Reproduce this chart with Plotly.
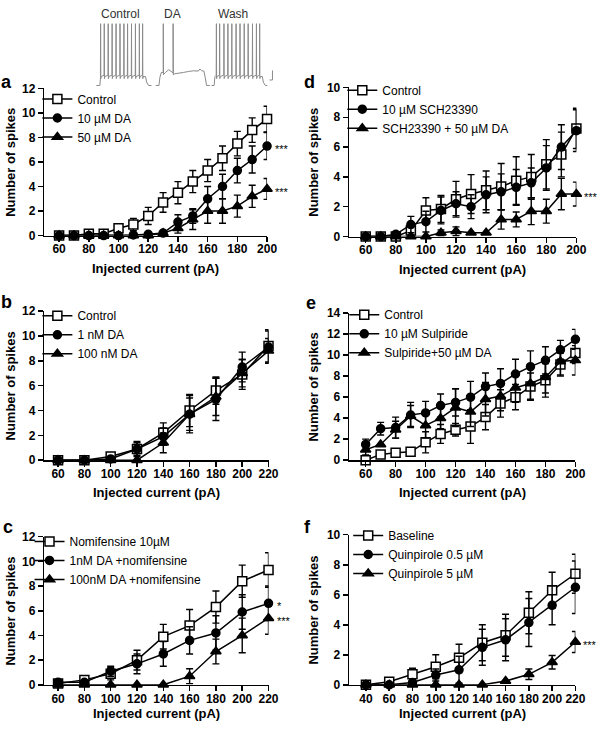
import plotly.graph_objects as go

W, H = 610, 734
FONT = "Arial, Liberation Sans, Helvetica, sans-serif"

# ---------------- data ----------------
# panel a
A_X = [60, 70, 80, 90, 100, 110, 120, 130, 140, 150, 160, 170, 180, 190, 200]
A_NAMES = ["Control", "10 µM DA", "50 µM DA"]
A_CTRL = [0, 0, 0.15, 0.15, 0.6, 0.9, 1.6, 2.7, 3.5, 4.4, 5.3, 6.3, 7.5, 8.6, 9.5]
A_CTRL_ERR = [0, 0, 0, 0, 0.3, 0.5, 0.7, 0.8, 0.9, 0.9, 0.9, 1.0, 1.0, 1.0, 1.05]
A_DA10 = [0, 0, 0, 0, 0, 0.05, 0.1, 0.2, 1.1, 1.6, 3.0, 4.0, 5.3, 6.2, 7.3]
A_DA10_ERR = [0, 0, 0, 0, 0, 0, 0, 0, 0.6, 0.6, 1.0, 1.0, 1.0, 1.1, 1.1]
A_DA50 = [0, 0, 0, 0, 0, 0, 0, 0.2, 0.6, 1.3, 2.0, 2.0, 2.4, 3.2, 3.8]
A_DA50_ERR = [0, 0, 0, 0, 0, 0, 0, 0, 0.4, 0.8, 1.0, 1.0, 0.9, 0.9, 0.85]
A_STARS = ["", "***", "***"]

# panel b
B_X = [60, 80, 100, 120, 140, 160, 180, 200, 220]
B_NAMES = ["Control", "1 nM DA", "100 nM DA"]
B_CTRL = [0, 0, 0.3, 0.9, 2.2, 4.0, 5.6, 6.9, 9.2]
B_CTRL_ERR = [0, 0, 0, 0.6, 0.8, 1.3, 1.1, 1.2, 1.3]
B_DA1 = [0, 0, 0.1, 0.9, 1.9, 3.7, 4.9, 7.5, 9.1]
B_DA1_ERR = [0, 0, 0, 0.5, 0.7, 1.5, 1.7, 1.2, 1.3]
B_DA100 = [0, 0, 0, 0, 1.4, 3.7, 5.1, 7.0, 8.8]
B_DA100_ERR = [0, 0, 0, 0, 0.8, 1.3, 1.5, 1.1, 1.0]
B_STARS = ["", "", ""]

# panel c
C_X = [60, 80, 100, 120, 140, 160, 180, 200, 220]
C_NAMES = ["Nomifensine 10µM", "1nM DA +nomifensine", "100nM DA +nomifensine"]
C_NOM = [0.1, 0.4, 0.9, 2.0, 3.9, 4.8, 6.3, 8.4, 9.3]
C_NOM_ERR = [0, 0, 0.5, 0.8, 1.0, 1.3, 1.3, 1.3, 1.4]
C_DA1 = [0.2, 0.2, 1.1, 1.7, 2.5, 3.6, 4.2, 5.9, 6.6]
C_DA1_ERR = [0, 0, 0.4, 0.8, 1.0, 1.1, 1.4, 1.4, 1.4]
C_DA100 = [0, 0, 0, 0, 0, 0.7, 2.7, 4.0, 5.4]
C_DA100_ERR = [0, 0, 0, 0, 0, 0.6, 1.0, 1.4, 1.3]
C_STARS = ["", "*", "***"]

# panel d
D_X = [60, 70, 80, 90, 100, 110, 120, 130, 140, 150, 160, 170, 180, 190, 200]
D_NAMES = ["Control", "10 µM SCH23390", "SCH23390 + 50 µM DA"]
D_CTRL = [0, 0, 0, 0.4, 1.75, 1.85, 2.5, 2.85, 3.1, 3.35, 3.75, 4.0, 4.85, 5.5, 7.25]
D_CTRL_ERR = [0, 0, 0, 0.3, 0.85, 0.9, 1.2, 1.3, 1.3, 1.55, 1.6, 1.5, 1.65, 1.5, 1.35]
D_SCH = [0, 0, 0.15, 0.8, 1.0, 1.75, 2.2, 2.0, 2.8, 3.0, 3.3, 3.6, 4.6, 6.0, 7.1]
D_SCH_ERR = [0, 0, 0, 0.55, 0.7, 0.9, 0.8, 0.8, 1.2, 1.2, 1.2, 1.0, 1.5, 1.5, 1.4]
D_SCHDA = [0, 0, 0, 0, 0, 0.25, 0.35, 0.25, 0.25, 1.15, 1.15, 1.7, 1.7, 2.85, 2.85]
D_SCHDA_ERR = [0, 0, 0, 0, 0, 0.2, 0.3, 0, 0, 0.65, 0.5, 0.9, 0.8, 1.05, 0.8]
D_STARS = ["", "", "***"]

# panel e
E_X = [60, 70, 80, 90, 100, 110, 120, 130, 140, 150, 160, 170, 180, 190, 200]
E_NAMES = ["Control", "10 µM Sulpiride", "Sulpiride+50 µM DA"]
E_CTRL = [0, 0.55, 0.7, 0.8, 1.7, 2.5, 2.9, 3.2, 4.1, 5.4, 6.0, 7.0, 7.6, 9.1, 10.2]
E_CTRL_ERR = [0, 0, 0, 0, 1.0, 0.9, 0.6, 1.6, 1.2, 1.3, 1.2, 1.3, 1.6, 1.1, 1.0]
E_SUL = [1.5, 3.0, 3.1, 4.3, 4.5, 5.2, 5.5, 6.0, 7.0, 7.3, 8.2, 8.9, 9.5, 10.5, 11.5]
E_SUL_ERR = [0.5, 0.6, 1.0, 1.2, 1.1, 1.1, 1.3, 1.5, 1.3, 1.4, 1.4, 1.5, 1.3, 0.9, 0.95]
E_SULDA = [1.0, 1.5, 2.9, 4.2, 3.3, 4.0, 5.0, 4.6, 5.8, 6.1, 6.9, 7.3, 7.9, 9.4, 9.5]
E_SULDA_ERR = [0.5, 0, 0.8, 1.0, 1.2, 1.0, 1.8, 1.4, 1.6, 1.4, 1.4, 1.5, 1.5, 1.3, 1.4]
E_STARS = ["", "", ""]

# panel f
F_X = [40, 60, 80, 100, 120, 140, 160, 180, 200, 220]
F_NAMES = ["Baseline", "Quinpirole 0.5 µM", "Quinpirole 5 µM"]
F_BASE = [0, 0.2, 0.7, 1.2, 1.8, 2.8, 3.3, 4.8, 6.3, 7.4]
F_BASE_ERR = [0, 0, 0.4, 0.8, 0.9, 1.2, 1.4, 1.4, 1.2, 1.3]
F_Q05 = [0, 0, 0.15, 0.65, 1.0, 2.5, 3.0, 4.15, 5.3, 6.5]
F_Q05_ERR = [0, 0, 0, 0.4, 0.9, 1.2, 1.4, 1.6, 1.3, 1.75]
F_Q5 = [0, 0, 0, 0, 0, 0, 0.25, 0.7, 1.5, 2.85]
F_Q5_ERR = [0, 0, 0, 0, 0, 0, 0, 0.35, 0.45, 0.7]
F_STARS = ["", "", "***"]

# inset recording (panel a), times in ms within each sweep, voltage in mV
SWEEP_LABELS = ["Control", "DA", "Wash"]
CTRL_SPIKES_MS = [43, 80, 120, 160, 200, 240, 280, 317, 357, 397, 437, 470]
WASH_SPIKES_MS = [50, 83, 127, 167, 207, 250, 290, 333, 373, 417, 457, 490]
DA_SPIKES_MS = [77, 177]
DA_PROFILE_T = [0, 33, 43, 57, 100, 133, 190, 233, 283, 333, 383, 433, 450, 467, 490, 503, 517, 550]
DA_PROFILE_V = [-70, -70, -58, -51, -51, -47, -53, -52.4, -51, -49.6, -48.6, -49, -46, -48.6, -49, -58, -70, -70]
BASE_MV, PLATEAU_MV, PEAK_MV = -70, -57, 20

AXIS_TITLE_X = "Injected current (pA)"
AXIS_TITLE_Y = "Number of spikes"

# ---------------- layout helpers ----------------
def fx(px):
    return px / W


def fy(py):
    return 1 - py / H


SYMBOLS = ["square", "circle", "triangle-up"]
MSIZE = [9, 8, 9]
MFILL = ["white", "black", "black"]

fig = go.Figure()

panels = [
    dict(x=A_X, names=A_NAMES, vals=[A_CTRL, A_DA10, A_DA50], errs=[A_CTRL_ERR, A_DA10_ERR, A_DA50_ERR],
         stars=A_STARS, xd=(45, 271.5), yd=(83, 233), xr=[50, 200], yr=[0, 12], t0=60,
         leg=(38, 79), letter="a", lp=(7, 76), ytx=11, xty=267),
    dict(x=B_X, names=B_NAMES, vals=[B_CTRL, B_DA1, B_DA100], errs=[B_CTRL_ERR, B_DA1_ERR, B_DA100_ERR],
         stars=B_STARS, xd=(45, 273), yd=(310, 462), xr=[49.5, 220], yr=[0, 12], t0=60,
         leg=(38, 300), letter="b", lp=(7, 301), ytx=11, xty=495),
    dict(x=C_X, names=C_NAMES, vals=[C_NOM, C_DA1, C_DA100], errs=[C_NOM_ERR, C_DA1_ERR, C_DA100_ERR],
         stars=C_STARS, xd=(45, 273), yd=(540, 691), xr=[49.5, 220], yr=[0, 12], t0=60,
         leg=(30, 530), letter="c", lp=(8, 530), ytx=11, xty=720),
    dict(x=D_X, names=D_NAMES, vals=[D_CTRL, D_SCH, D_SCHDA], errs=[D_CTRL_ERR, D_SCH_ERR, D_SCHDA_ERR],
         stars=D_STARS, xd=(355, 586), yd=(82, 234), xr=[49, 200], yr=[0, 10], t0=60,
         leg=(348, 70), letter="d", lp=(315, 76), ytx=319, xty=268),
    dict(x=E_X, names=E_NAMES, vals=[E_CTRL, E_SUL, E_SULDA], errs=[E_CTRL_ERR, E_SUL_ERR, E_SULDA_ERR],
         stars=E_STARS, xd=(355, 585), yd=(312, 462), xr=[49, 200], yr=[0, 14], t0=60,
         leg=(350, 299), letter="e", lp=(316, 302), ytx=319, xty=495),
    dict(x=F_X, names=F_NAMES, vals=[F_BASE, F_Q05, F_Q5], errs=[F_BASE_ERR, F_Q05_ERR, F_Q5_ERR],
         stars=F_STARS, xd=(355, 585), yd=(538, 691), xr=[25.6, 220], yr=[0, 10], t0=40,
         leg=(354, 524), letter="f", lp=(313, 530), ytx=319, xty=720),
]

annotations = []
layout_axes = {}
for i, p in enumerate(panels, start=1):
    sfx = "" if i == 1 else str(i)
    xref, yref = "x" + sfx, "y" + sfx
    legname = "legend" + sfx
    for k in range(3):
        err = [e if e > 0 else None for e in p["errs"][k]]
        fig.add_trace(go.Scatter(
            x=p["x"], y=p["vals"][k], name=p["names"][k], mode="lines+markers",
            xaxis=xref, yaxis=yref, legend=legname, cliponaxis=False,
            line=dict(color="black", width=1.5),
            marker=dict(symbol=SYMBOLS[k], size=MSIZE[k], color=MFILL[k],
                        line=dict(color="black", width=1.5)),
            error_y=dict(type="data", array=err, visible=True, color="black", thickness=1.4, width=3.5),
        ))
        if p["stars"][k]:
            annotations.append(dict(xref=xref, yref=yref, x=p["x"][-1], y=p["vals"][k][-1],
                                    text=p["stars"][k], showarrow=False, xanchor="left", yanchor="middle",
                                    xshift=6, yshift=-3, font=dict(family=FONT, size=11, color="black")))
    axis_common = dict(showline=True, linecolor="black", linewidth=1.5, ticks="outside", ticklen=5,
                       tickwidth=1.5, tickcolor="black", showgrid=False, zeroline=False,
                       tickfont=dict(family=FONT, size=12, color="black", weight="bold"))
    layout_axes["xaxis" + sfx] = dict(domain=[fx(p["xd"][0]), fx(p["xd"][1])], range=p["xr"], anchor=yref,
                                      tick0=p["t0"], dtick=20, ticklabelstandoff=-3, **axis_common)
    layout_axes["yaxis" + sfx] = dict(domain=[fy(p["yd"][1]), fy(p["yd"][0])], range=p["yr"], anchor=xref,
                                      tick0=0, dtick=2, **axis_common)
    layout_axes[legname] = dict(x=fx(p["leg"][0]), y=fy(p["leg"][1]), xanchor="left", yanchor="top",
                                bgcolor="rgba(0,0,0,0)", borderwidth=0, tracegroupgap=0,
                                font=dict(family=FONT, size=12, color="black"))
    annotations.append(dict(xref="paper", yref="paper", x=fx(p["lp"][0]), y=fy(p["lp"][1]), text=p["letter"],
                            showarrow=False, xanchor="center", yanchor="middle",
                            font=dict(family=FONT, size=18, color="black", weight="bold")))
    annotations.append(dict(xref="paper", yref="paper", x=fx(p["ytx"]), y=fy((p["yd"][0] + p["yd"][1]) / 2),
                            text=AXIS_TITLE_Y, textangle=-90, showarrow=False, xanchor="center", yanchor="middle",
                            font=dict(family=FONT, size=13, color="black", weight="bold")))
    annotations.append(dict(xref="paper", yref="paper", x=fx((p["xd"][0] + p["xd"][1]) / 2), y=fy(p["xty"]),
                            text=AXIS_TITLE_X, showarrow=False, xanchor="center", yanchor="middle",
                            font=dict(family=FONT, size=13, color="black", weight="bold")))

# ---------------- inset recording ----------------
SWEEP_STARTS = [30, 633, 1200]


def step_sweep(spikes, onset, offset, end):
    t = [0, onset, onset + 8]
    v = [BASE_MV, BASE_MV, PLATEAU_MV]
    for ts in spikes:
        t += [ts - 2, ts, ts + 2, ts + 6]
        v += [PLATEAU_MV + 2, PEAK_MV, PLATEAU_MV - 3, PLATEAU_MV]
    t += [offset, offset + 10, offset + 30, end]
    v += [PLATEAU_MV, BASE_MV + 5, BASE_MV, BASE_MV]
    return t, v


def da_sweep():
    pts = list(zip(DA_PROFILE_T, DA_PROFILE_V))
    for ts in DA_SPIKES_MS:
        vloc = DA_PROFILE_V[0]
        for j in range(len(DA_PROFILE_T) - 1):
            if DA_PROFILE_T[j] <= ts <= DA_PROFILE_T[j + 1]:
                t0, t1 = DA_PROFILE_T[j], DA_PROFILE_T[j + 1]
                v0, v1 = DA_PROFILE_V[j], DA_PROFILE_V[j + 1]
                vloc = v0 + (v1 - v0) * (ts - t0) / (t1 - t0)
                break
        pts += [(ts - 0.5, vloc), (ts, PEAK_MV), (ts + 2, vloc - 3)]
    pts.sort()
    return [q[0] for q in pts], [q[1] for q in pts]


sweeps = [step_sweep(CTRL_SPIKES_MS, 35, 500, 560), da_sweep(), step_sweep(WASH_SPIKES_MS, 27, 517, 567)]
for s0, (tt, vv), lab in zip(SWEEP_STARTS, sweeps, SWEEP_LABELS):
    fig.add_trace(go.Scatter(x=[s0 + q for q in tt], y=vv, mode="lines", showlegend=False,
                             line=dict(color="#8a8a8a", width=1), xaxis="x7", yaxis="y7", hoverinfo="skip"))
# scale bar
fig.add_trace(go.Scatter(x=[1790, 1820, 1820], y=[-62, -62, -48], mode="lines", showlegend=False,
                         line=dict(color="#8a8a8a", width=1), xaxis="x7", yaxis="y7", hoverinfo="skip"))
layout_axes["xaxis7"] = dict(domain=[fx(95), fx(300)], range=[0, 2050], visible=False, anchor="y7")
layout_axes["yaxis7"] = dict(domain=[fy(84), fy(14)], range=[-75.7, 24.3], visible=False, anchor="x7")

for lab, cx in zip(SWEEP_LABELS, [122, 175, 237]):
    annotations.append(dict(xref="paper", yref="paper", x=fx(cx), y=fy(7), text=lab, showarrow=False,
                            xanchor="center", yanchor="middle", font=dict(family=FONT, size=12, color="#333333")))

fig.update_layout(width=W, height=H, autosize=False, margin=dict(l=0, r=0, t=0, b=0),
                  paper_bgcolor="white", plot_bgcolor="white", annotations=annotations, hovermode=False,
                  font=dict(family=FONT, color="black"), **layout_axes)

fig.write_html("out.html", config={"displayModeBar": False, "staticPlot": True},
               post_script="document.body.style.margin='0';document.body.style.overflow='hidden';")
